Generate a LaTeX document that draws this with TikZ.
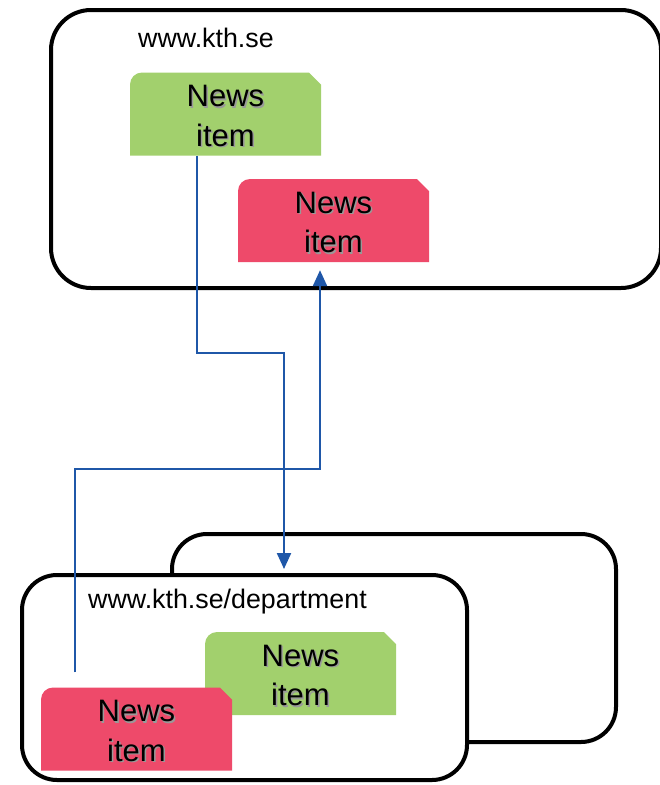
\documentclass[tikz,border=0pt]{standalone}
\usepackage{fontspec}
\setmainfont{Liberation Sans}
\usetikzlibrary{arrows.meta,calc}
\definecolor{newsgreen}{HTML}{A2D06D}
\definecolor{newsred}{HTML}{EE4A6A}
\definecolor{linkblue}{HTML}{1F57A8}
\newcommand\shadowtxt[1]{\leavevmode\rlap{\kern1.5pt\raisebox{-1.5pt}{\textcolor{black!40}{#1}}}#1}
\newcommand\newstext{\rule{0pt}{27pt}\shadowtxt{News}\\\shadowtxt{item}}
\begin{document}
\begin{tikzpicture}[x=1pt,y=-1pt,
  webbox/.style={draw=black, line width=4pt, fill=white, rounded corners=#1, inner sep=0pt},
  newsitem/.style={minimum width=191pt, minimum height=83pt, inner sep=0pt, align=center,
    font=\fontsize{31}{39.5}\selectfont, text=black,
    path picture={
      \fill[#1] (path picture bounding box.south west)
        -- ([yshift=-12pt]path picture bounding box.north west)
        arc[start angle=180,end angle=90,radius=12pt]
        -- ([xshift=-12pt]path picture bounding box.north east)
        -- ([yshift=-12pt]path picture bounding box.north east)
        -- (path picture bounding box.south east) -- cycle;
    }},
  urltext/.style={anchor=base west, inner sep=0pt, font=\fontsize{26.8}{30}\selectfont},
  conn/.style={draw=linkblue, line width=2.2pt},
  tip/.style={-{Triangle[width=14pt,length=16pt]}}
]
\useasboundingbox (0,0) rectangle (660,785);
% top site
\node[webbox=40pt, minimum width=610pt, minimum height=278pt] (top) at (356,149) {};
\node[newsitem=newsgreen] (g1) at (225.5,114) {\newstext};
\node[newsitem=newsred] (r1) at (333.5,220.5) {\newstext};
\node[urltext] (url1) at (138,47) {www.kth.se};
% department sites
\node[webbox=35pt, minimum width=444pt, minimum height=208pt] (back) at (394,638) {};
\node[webbox=35pt, minimum width=445pt, minimum height=205pt] (front) at (244.5,677.5) {};
\node[newsitem=newsgreen] (g2) at (300.5,673.5) {\newstext};
\node[newsitem=newsred] (r2) at (136.5,729) {\newstext};
\node[urltext] (url2) at (88,608) {www.kth.se/department};
% connectors
\coordinate (bend1) at (284,353);
\coordinate (bend2) at (320,469);
\draw[conn, tip, shorten >=4pt] ([xshift=-28.5pt]g1.south) |- (bend1) -- (bend1 |- front.north);
\draw[conn, tip] ([xshift=34pt,yshift=15pt]r2.north west) |- (bend2) -- ([yshift=-8pt]bend2 |- r1.south);
\end{tikzpicture}
\end{document}
